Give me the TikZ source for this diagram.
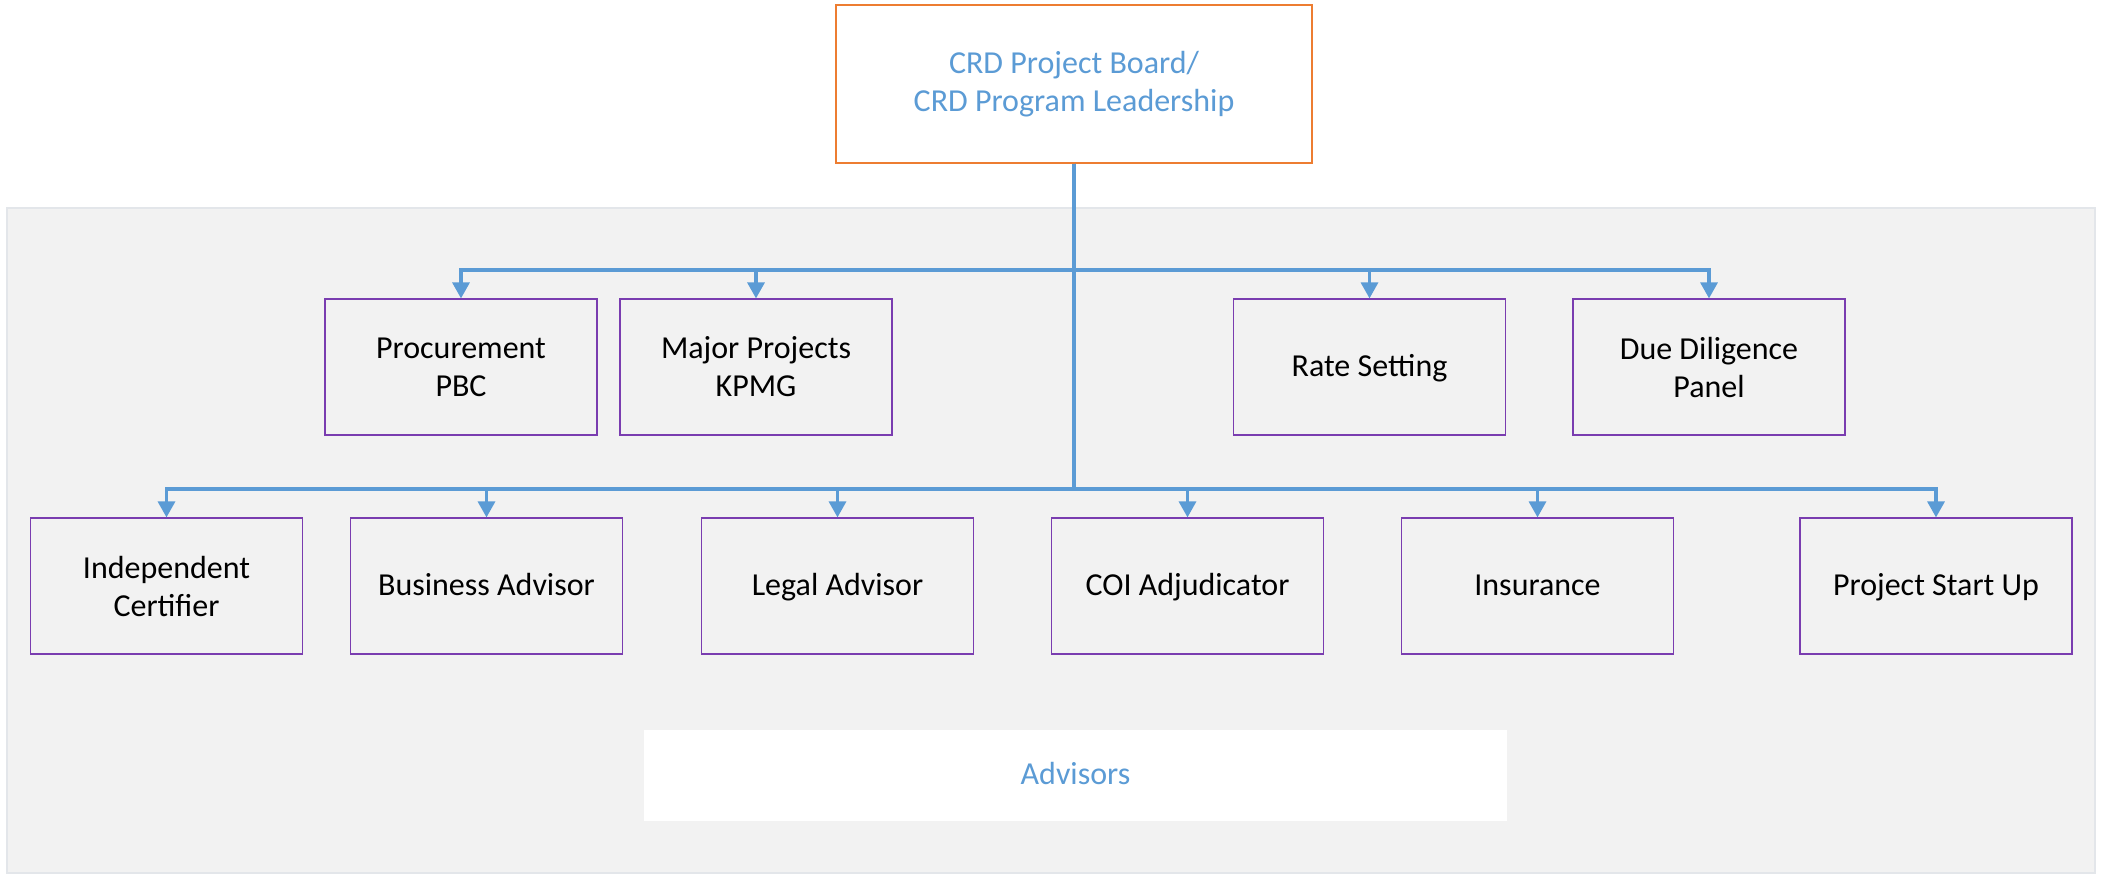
\documentclass[tikz,border=0pt]{standalone}
\usepackage{fontspec}
\setmainfont{Carlito}
\usetikzlibrary{arrows.meta}
\definecolor{lineblue}{HTML}{5B9BD5}
\definecolor{txtblue}{HTML}{5B9BD5}
\definecolor{boxorange}{HTML}{ED7D31}
\definecolor{boxpurple}{HTML}{7A3DB0}
\definecolor{panelgrey}{HTML}{F2F2F2}
\definecolor{paneledge}{HTML}{E3E6EA}
\tikzset{
  orgbox/.style={draw=boxpurple, line width=0.6pt, fill=panelgrey, minimum width=136pt, minimum height=68pt, inner sep=0pt, align=center, font=\fontsize{16}{19}\selectfont, text=black},
  oneline/.style={text height=11.5pt, text depth=2.5pt},
  topbox/.style={draw=boxorange, line width=0.6pt, fill=white, minimum width=238pt, minimum height=79pt, inner sep=0pt, align=center, font=\fontsize{16}{19}\selectfont, text=txtblue},
  conn/.style={draw=lineblue, line width=1.6pt, -{Triangle[length=8pt,width=8.5pt]}},
}
\begin{document}
\begin{tikzpicture}[x=0.5pt,y=-0.5pt]
\useasboundingbox (0,0) rectangle (2107,875);
% grey panel
\node[draw=paneledge, line width=0.6pt, fill=panelgrey, minimum width=1044pt, minimum height=332.5pt, inner sep=0pt] (panel) at (1051,540.5) {};
% advisors label box
\node[fill=white, minimum width=431.5pt, minimum height=45.5pt, inner sep=0pt, text=txtblue, font=\fontsize{16}{19}\selectfont, oneline] (adv) at (1075.5,775.5) {Advisors};
% top box
\node[topbox] (top) at (1074,84) {CRD Project Board/\\CRD Program Leadership};
% row 1
\node[orgbox] (proc) at (461,367) {Procurement\\PBC};
\node[orgbox] (major) at (756,367) {Major Projects\\KPMG};
\node[orgbox, oneline] (rate) at (1369.5,367) {Rate Setting};
\node[orgbox] (dd) at (1709,367) {Due Diligence\\Panel};
% row 2
\node[orgbox] (ind) at (166.5,586) {Independent\\Certifier};
\node[orgbox, oneline] (bus) at (486.5,586) {Business Advisor};
\node[orgbox, oneline] (legal) at (837.5,586) {Legal Advisor};
\node[orgbox, oneline] (coi) at (1187.5,586) {COI Adjudicator};
\node[orgbox, oneline] (ins) at (1537.5,586) {Insurance};
\node[orgbox, oneline] (psu) at (1936,586) {Project Start Up};
% bar levels
\coordinate (b1) at (0,270);
\coordinate (b2) at (0,489);
% connectors
\foreach \c in {proc,major,rate,dd}{
  \draw[conn] (top.south) -- (top.south |- b1) -| (\c.north);
}
\foreach \c in {ind,bus,legal,coi,ins,psu}{
  \draw[conn] (top.south) -- (top.south |- b2) -| (\c.north);
}
\end{tikzpicture}
\end{document}
